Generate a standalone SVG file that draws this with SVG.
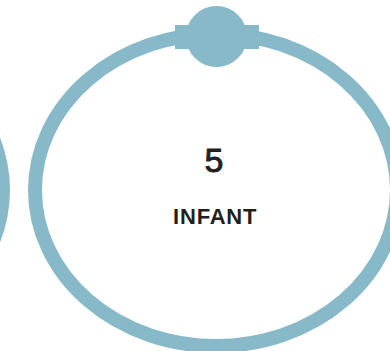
<svg xmlns="http://www.w3.org/2000/svg" width="390" height="351" viewBox="0 0 390 351">
  <style>
    .ring { fill: none; stroke: #87b9c8; stroke-width: 14; }
    .cap { fill: #87b9c8; }
    .num { font-family: "Liberation Sans", Arial, sans-serif; font-size: 34px; fill: #231f20; stroke: #231f20; stroke-width: 0.9px; text-anchor: middle; }
    .lbl { font-family: "Liberation Sans", Arial, sans-serif; font-size: 22px; font-weight: bold; fill: #231f20; text-anchor: middle; letter-spacing: 0.8px; }
  </style>
  <rect width="390" height="351" fill="#ffffff"/>
  <g id="prev-node">
    <ellipse class="ring" cx="-178" cy="190" rx="181" ry="156"/>
  </g>
  <g id="node-infant">
    <ellipse class="ring" cx="216" cy="190" rx="181" ry="156"/>
    <rect class="cap" x="175" y="25" width="84" height="24"/>
    <circle class="cap" cx="216.5" cy="36.5" r="30.5"/>
    <text class="num" x="214" y="172">5</text>
    <text class="lbl" x="215.2" y="223.5">INFANT</text>
  </g>
  <g id="connectors"></g>
</svg>
